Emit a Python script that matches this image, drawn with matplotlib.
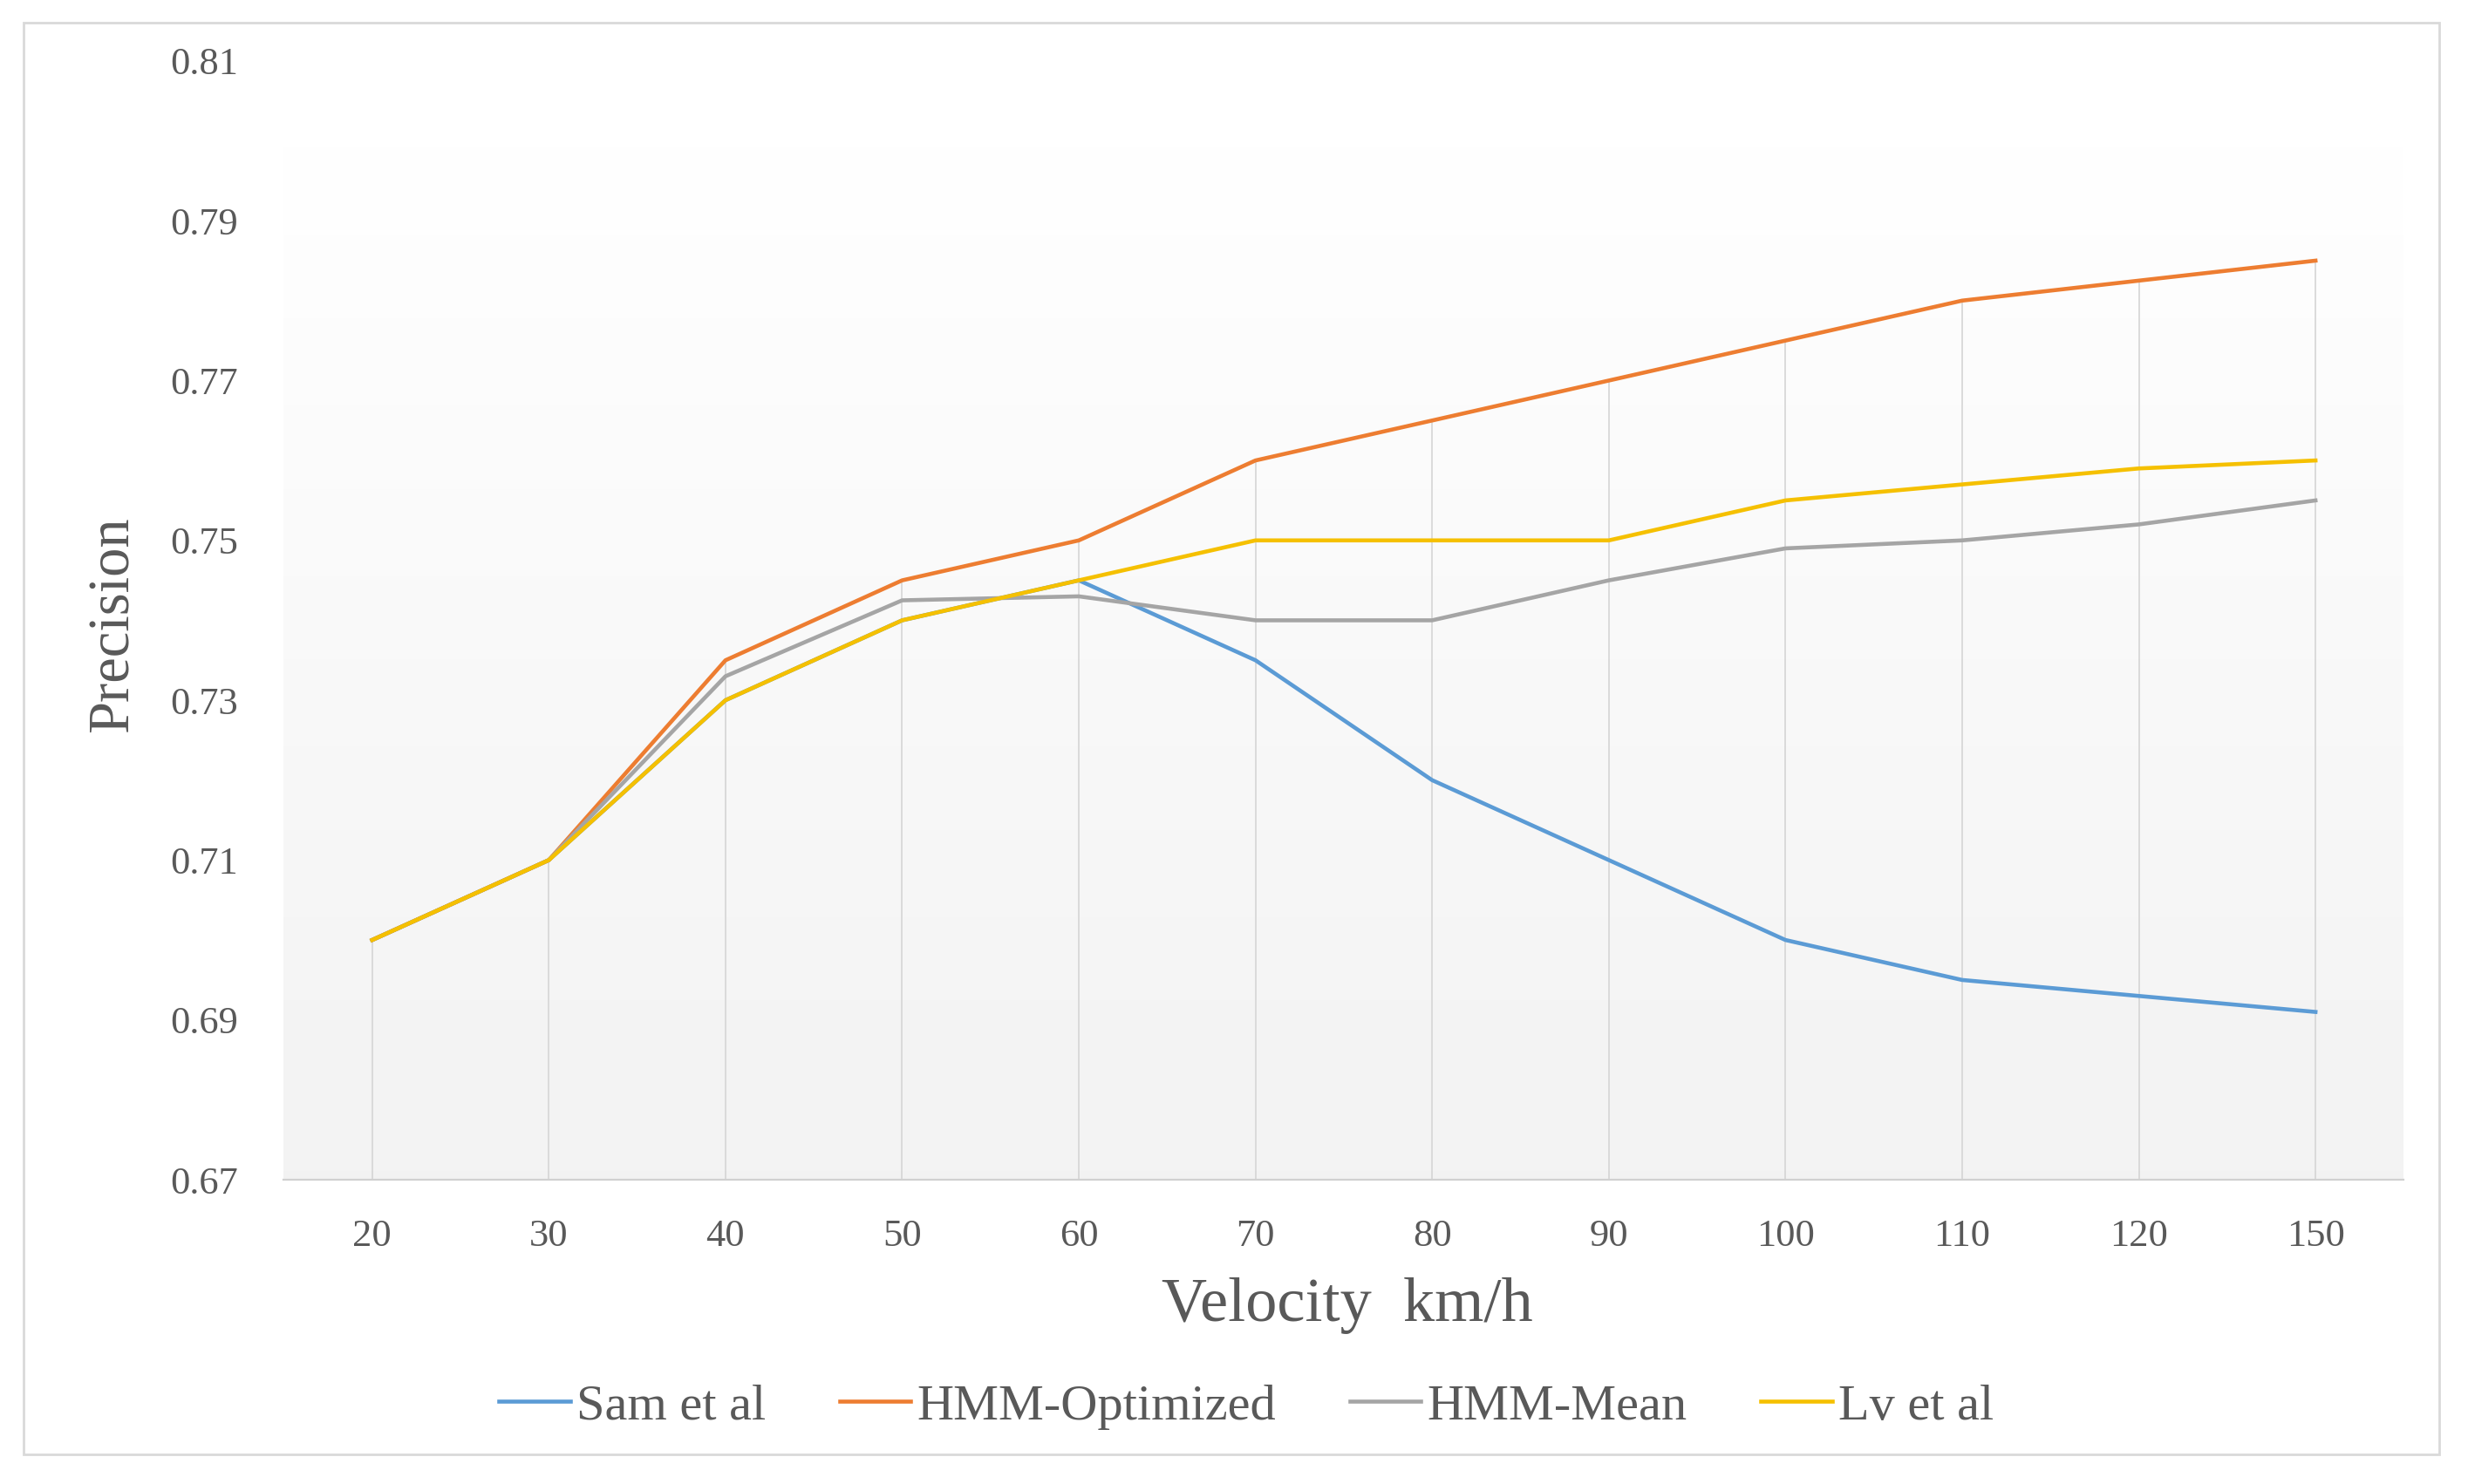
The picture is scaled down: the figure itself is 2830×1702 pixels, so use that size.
import matplotlib
matplotlib.use('Agg')
import matplotlib.pyplot as plt
import numpy as np
from matplotlib.patches import Rectangle

# data
velocity = ['20', '30', '40', '50', '60', '70', '80', '90', '100', '110', '120', '150']
sam = [0.700, 0.710, 0.730, 0.740, 0.745, 0.735, 0.720, 0.710, 0.700, 0.695, 0.693, 0.691]
hmm_opt = [0.700, 0.710, 0.735, 0.745, 0.750, 0.760, 0.765, 0.770, 0.775, 0.780, 0.7825, 0.785]
hmm_mean = [0.700, 0.710, 0.733, 0.7425, 0.743, 0.740, 0.740, 0.745, 0.749, 0.750, 0.752, 0.755]
lv = [0.700, 0.710, 0.730, 0.740, 0.745, 0.750, 0.750, 0.750, 0.755, 0.757, 0.759, 0.760]
yticks = [0.67, 0.69, 0.71, 0.73, 0.75, 0.77, 0.79, 0.81]

text_col = '#595959'
serif = 'Liberation Serif'

fig = plt.figure(figsize=[28.3, 17.02], dpi=100)
ax = fig.add_axes([0.115, 0.205, 0.859, 0.754])

x = np.arange(len(velocity))

# gradient background, white at top to light grey at bottom
grad = np.linspace(0.949, 1.0, 256).reshape(-1, 1)
ax.imshow(grad, cmap='gray', vmin=0, vmax=1, aspect='auto', origin='lower',
          extent=[-0.5, 11.5, 0.67, 0.81], zorder=0)

# drop lines from the highest series down to the axis
tops = np.max(np.array([sam, hmm_opt, hmm_mean, lv]), axis=0)
ax.vlines(x, 0.67, tops, color='#D5D5D5', linewidth=1.2, zorder=1)

lw = 3.3
ax.plot(x, sam, color='#5B9BD5', linewidth=lw, label='Sam et al', zorder=3)
ax.plot(x, hmm_opt, color='#ED7D31', linewidth=lw, label='HMM-Optimized', zorder=3)
ax.plot(x, hmm_mean, color='#A5A5A5', linewidth=lw, label='HMM-Mean', zorder=3)
ax.plot(x, lv, color='#F5C000', linewidth=lw, label='Lv et al', zorder=3)

ax.set_xlim(-0.5, 11.5)
ax.set_ylim(0.67, 0.81)
ax.set_xticks(x)
ax.set_xticklabels(velocity)
ax.set_yticks(yticks)
ax.set_yticklabels(['%.2f' % v for v in yticks])
ax.tick_params(axis='both', length=0, labelsize=32, labelcolor=text_col)
ax.tick_params(axis='y', pad=38)
ax.tick_params(axis='x', pad=32)
for lab in ax.get_xticklabels() + ax.get_yticklabels():
    lab.set_family(serif)

for s in ['top', 'right', 'left']:
    ax.spines[s].set_visible(False)
ax.spines['bottom'].set_color('#D0D0D0')
ax.spines['bottom'].set_linewidth(1.6)
ax.spines['bottom'].set_zorder(2)

fig.text(0.046, 0.579, 'Precision', rotation=90, ha='center', va='center',
         fontsize=48, color=text_col, family=serif)
fig.text(0.546, 0.120, 'Velocity  km/h', ha='center', va='center',
         fontsize=52, color=text_col, family=serif)

fig.legend(loc='center', bbox_to_anchor=(0.505, 0.052), ncol=4, frameon=False,
           prop={'family': serif, 'size': 42}, labelcolor=text_col,
           handlelength=1.4, handletextpad=0.12, columnspacing=1.45)

# light outer frame
fig.patches.append(Rectangle((0.0095, 0.020), 0.979, 0.9647, transform=fig.transFigure,
                             fill=False, edgecolor='#D9D9D9', linewidth=2))

fig.savefig('out.png', dpi=100, facecolor='white')
